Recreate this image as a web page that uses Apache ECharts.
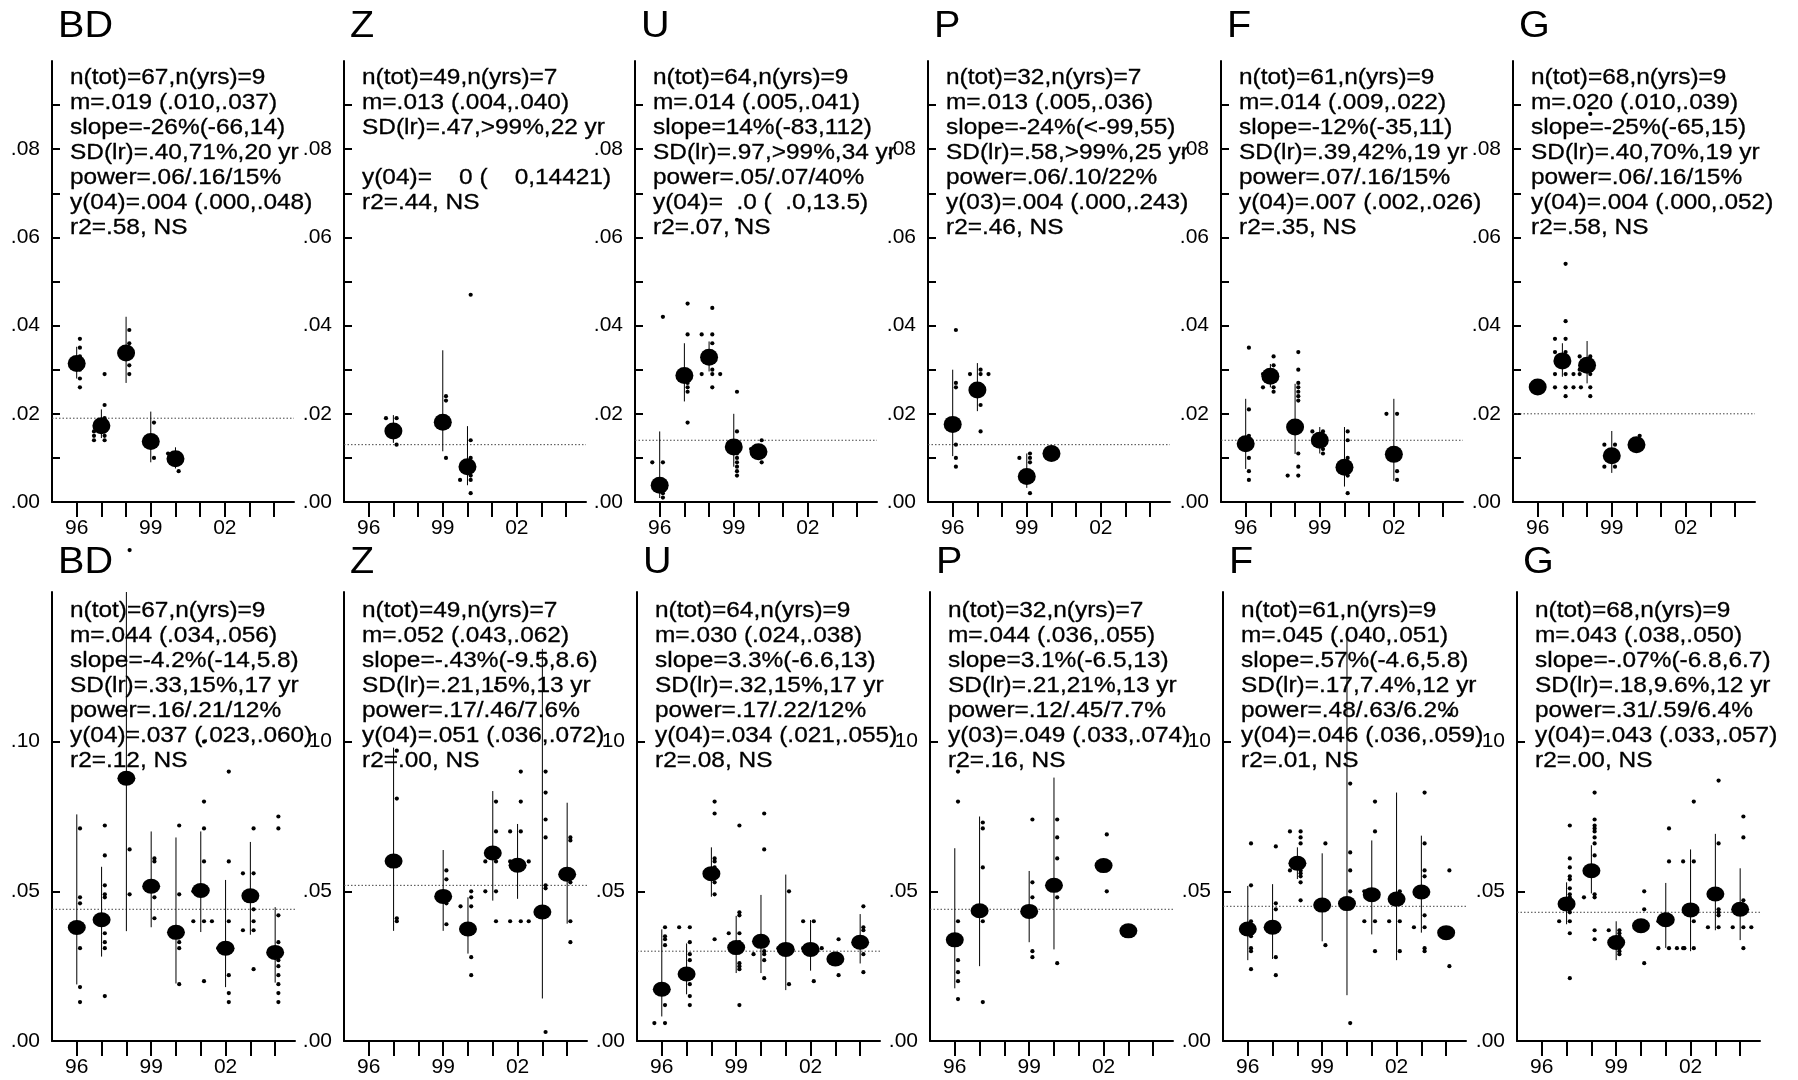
<!DOCTYPE html>
<html><head><meta charset="utf-8">
<script src="https://cdn.jsdelivr.net/npm/echarts@6.0.0/dist/echarts.min.js"></script>
<style>html,body{margin:0;padding:0;background:#fff}#c{width:1798px;height:1080px}</style>
</head><body><div id="c"></div><script>
// ---------- DATA ----------
// yearly rows: [year, mean, ciLow, ciHigh]; samples: [year, [individual values]]
const BD_top_yearly = [[1996,.0314,.028,.0352],[1997,.0173,.0145,.021],[1998,.0338,.027,.042],[1999,.0137,.009,.0205],[2000,.0098,.0076,.0124]];
const BD_top_samples = [[1996,[.037,.035,.033,.031,.030,.028,.026]],[1997,[.029,.022,.019,.018,.016,.016,.015,.015,.014,.014]],[1998,[.039,.036,.034,.031,.029]],[1999,[.018,.010]],[2000,[.011,.011,.010,.009,.007]]];
const BD_top_m = 0.019;
const BD_top_text = ['n(tot)=67,n(yrs)=9','m=.019 (.010,.037)','slope=-26%(-66,14)','SD(lr)=.40,71%,20 yr','power=.06/.16/15%','y(04)=.004 (.000,.048)','r2=.58, NS'];

const Z_top_yearly = [[1997,.0161,.0134,.0197],[1999,.0181,.0115,.0344],[2000,.0080,.0038,.0172]];
const Z_top_samples = [[1997,[.019,.019,.015,.013]],[1999,[.024,.023,.010]],[2000,[.047,.014,.010,.008,.006,.005,.005,.002]]];
const Z_top_m = 0.013;
const Z_top_text = ['n(tot)=49,n(yrs)=7','m=.013 (.004,.040)','SD(lr)=.47,>99%,22 yr','','y(04)=    0 (    0,14421)','r2=.44, NS'];

const U_top_yearly = [[1996,.0038,.0009,.016],[1997,.0287,.0228,.036],[1998,.0328,.0296,.0364],[1999,.0125,.008,.020],[2000,.0114,null,null]];
const U_top_samples = [[1996,[.042,.009,.009,.003,.002,.001]],[1997,[.045,.038,.027,.026,.025,.018]],[1998,[.044,.038,.038,.036,.030,.029,.029,.029,.026]],[1999,[.064,.025,.016,.012,.011,.010,.009,.008,.007,.006]],[2000,[.014,.012,.012,.011,.009]]];
const U_top_m = 0.014;
const U_top_text = ['n(tot)=64,n(yrs)=9','m=.014 (.005,.041)','slope=14%(-83,112)','SD(lr)=.97,>99%,34 yr','power=.05/.07/40%','y(04)=  .0 (  .0,13.5)','r2=.07, NS'];

const P_top_yearly = [[1996,.0176,.0104,.030],[1997,.0254,.0206,.0315],[1999,.0058,.0032,.011],[2000,.011,null,null]];
const P_top_samples = [[1996,[.039,.027,.026,.013,.010,.008]],[1997,[.030,.029,.029,.029,.022,.016]],[1999,[.011,.010,.010,.009,.002]],[2000,[.012,.011]]];
const P_top_m = 0.013;
const P_top_text = ['n(tot)=32,n(yrs)=7','m=.013 (.005,.036)','slope=-24%(<-99,55)','SD(lr)=.58,>99%,25 yr','power=.06/.10/22%','y(03)=.004 (.000,.243)','r2=.46, NS'];

const F_top_yearly = [[1996,.0132,.0075,.0234],[1997,.0285,.026,.0313],[1998,.017,.0109,.0268],[1999,.014,.011,.017],[2000,.0079,.0035,.017],[2002,.0108,.0048,.0234]];
const F_top_samples = [[1996,[.035,.021,.015,.010,.007,.005]],[1997,[.033,.031,.029,.029,.026,.026,.025]],[1998,[.034,.030,.027,.026,.025,.024,.023,.011,.008,.006,.006]],[1999,[.016,.016,.012,.011]],[2000,[.016,.014,.010,.006,.002]],[2002,[.020,.020,.007,.005]]];
const F_top_m = 0.014;
const F_top_text = ['n(tot)=61,n(yrs)=9','m=.014 (.009,.022)','slope=-12%(-35,11)','SD(lr)=.39,42%,19 yr','power=.07/.16/15%','y(04)=.007 (.002,.026)','r2=.35, NS'];

const G_top_yearly = [[1996,.0261,null,null],[1997,.032,.0284,.036],[1998,.031,.0269,.0365],[1999,.0105,.0066,.0161],[2000,.013,null,null]];
const G_top_samples = [[1996,[.026]],[1997,[.054,.041,.037,.037,.034,.034,.031,.029,.029,.029,.026,.026,.026,.026,.024]],[1998,[.088,.033,.033,.030,.030,.029,.029,.026,.024]],[1999,[.013,.013,.008,.008]],[2000,[.015,.012]]];
const G_top_m = 0.020;
const G_top_text = ['n(tot)=68,n(yrs)=9','m=.020 (.010,.039)','slope=-25%(-65,15)','SD(lr)=.40,70%,19 yr','power=.06/.16/15%','y(04)=.004 (.000,.052)','r2=.58, NS'];

const BD_bot_yearly = [[1996,.0379,.0189,.0757],[1997,.0405,.0282,.0582],[1998,.0878,.0367,.15],[1999,.0517,.038,.070],[2000,.0363,.0192,.068],[2001,.0503,.0364,.070],[2002,.031,.018,.0538],[2003,.0485,.0355,.0665],[2004,.0296,.0195,.0447]];
const BD_bot_samples = [[1996,[.071,.048,.046,.031,.018,.013]],[1997,[.072,.062,.052,.049,.048,.036,.033,.031,.015]],[1998,[.164,.064,.049]],[1999,[.061,.060,.048,.041]],[2000,[.072,.049,.033,.031,.019]],[2001,[.100,.080,.071,.060,.050,.050,.040,.040,.040,.020]],[2002,[.090,.060,.040,.031,.031,.022,.016,.013]],[2003,[.071,.056,.056,.044,.040,.037,.037,.024]],[2004,[.075,.071,.042,.033,.027,.025,.022,.019,.016,.013]]];
const BD_bot_m = 0.044;
const BD_bot_text = ['n(tot)=67,n(yrs)=9','m=.044 (.034,.056)','slope=-4.2%(-14,5.8)','SD(lr)=.33,15%,17 yr','power=.16/.21/12%','y(04)=.037 (.023,.060)','r2=.12, NS'];

const Z_bot_yearly = [[1997,.0601,.0368,.098],[1999,.0483,.0368,.0638],[2000,.0374,.0292,.048],[2001,.0628,.0469,.0835],[2002,.0587,.0475,.0725],[2003,.0431,.0142,.131],[2004,.0557,.0392,.0796]];
const Z_bot_samples = [[1997,[.097,.081,.041,.040]],[1999,[.057,.054,.046,.039]],[2000,[.050,.048,.045,.045,.036,.028,.022]],[2001,[.118,.080,.070,.060,.060,.050,.050,.040]],[2002,[.090,.080,.070,.070,.060,.060,.060,.040,.040,.040]],[2003,[.090,.083,.074,.068,.052,.051,.003]],[2004,[.068,.067,.053,.040,.033]]];
const Z_bot_m = 0.052;
const Z_bot_text = ['n(tot)=49,n(yrs)=7','m=.052 (.043,.062)','slope=-.43%(-9.5,8.6)','SD(lr)=.21,15%,13 yr','power=.17/.46/7.6%','y(04)=.051 (.036,.072)','r2=.00, NS'];

const U_bot_yearly = [[1996,.0173,.0082,.0373],[1997,.0224,.0156,.0326],[1998,.0559,.0482,.0647],[1999,.0312,.0227,.0418],[2000,.0333,.0227,.0488],[2001,.0306,.017,.0556],[2002,.0306,.0235,.0404],[2003,.0274,null,null],[2004,.033,.0259,.0424]];
const U_bot_samples = [[1996,[.038,.035,.034,.032,.012,.006,.006]],[1997,[.038,.038,.033,.029,.027,.019,.015,.012]],[1998,[.080,.076,.061,.060,.058,.055,.053,.049,.034]],[1999,[.072,.043,.042,.036,.036,.033,.026,.025,.024,.012]],[2000,[.076,.064,.030,.029,.029,.027,.021]],[2001,[.050,.031,.031,.019]],[2002,[.040,.040,.031,.031,.031,.020]],[2003,[.034,.022]],[2004,[.045,.038,.037,.029,.023]]];
const U_bot_m = 0.030;
const U_bot_text = ['n(tot)=64,n(yrs)=9','m=.030 (.024,.038)','slope=3.3%(-6.6,13)','SD(lr)=.32,15%,17 yr','power=.17/.22/12%','y(04)=.034 (.021,.055)','r2=.08, NS'];

const P_bot_yearly = [[1996,.0338,.0176,.0644],[1997,.0435,.025,.075],[1999,.0433,.033,.0568],[2000,.052,.0306,.088],[2002,.0586,null,null],[2003,.0368,null,null]];
const P_bot_samples = [[1996,[.090,.080,.040,.027,.023,.020,.014]],[1997,[.073,.071,.058,.040,.013]],[1999,[.074,.053,.048,.030,.028]],[2000,[.074,.068,.061,.048,.026]],[2002,[.069,.050]],[2003,[.037]]];
const P_bot_m = 0.044;
const P_bot_text = ['n(tot)=32,n(yrs)=7','m=.044 (.036,.055)','slope=3.1%(-6.5,13)','SD(lr)=.21,21%,13 yr','power=.12/.45/7.7%','y(03)=.049 (.033,.074)','r2=.16, NS'];

const F_bot_yearly = [[1996,.0374,.027,.0518],[1997,.038,.0274,.0524],[1998,.0594,.0541,.0647],[1999,.0454,.0333,.0627],[2000,.0459,.0153,.135],[2001,.0489,.0356,.067],[2002,.0474,.027,.083],[2003,.0498,.0362,.0686],[2004,.0362,null,null]];
const F_bot_samples = [[1996,[.066,.052,.040,.038,.035,.031,.030,.024]],[1997,[.065,.046,.044,.028,.022]],[1998,[.070,.070,.068,.066,.057,.057,.056,.055,.053,.047]],[1999,[.066,.032]],[2000,[.086,.063,.057,.050,.006]],[2001,[.080,.070,.050,.050,.040,.040,.030]],[2002,[.050,.040,.040,.030]],[2003,[.083,.066,.057,.055,.042,.038,.038,.031,.030]],[2004,[.109,.057,.025]]];
const F_bot_m = 0.045;
const F_bot_text = ['n(tot)=61,n(yrs)=9','m=.045 (.040,.051)','slope=.57%(-4.6,5.8)','SD(lr)=.17,7.4%,12 yr','power=.48/.63/6.2%','y(04)=.046 (.036,.059)','r2=.01, NS'];

const G_bot_yearly = [[1997,.0458,.039,.053],[1998,.0569,.0493,.0654],[1999,.0329,.027,.040],[2000,.0385,null,null],[2001,.0405,.0311,.0528],[2002,.0438,.030,.064],[2003,.0491,.037,.0692],[2004,.044,.0337,.0577]];
const G_bot_samples = [[1997,[.072,.061,.058,.055,.054,.051,.049,.048,.046,.044,.043,.040,.040,.036,.021]],[1998,[.083,.074,.072,.071,.070,.068,.066,.062,.049,.048,.048,.037,.034]],[1999,[.037,.037,.036,.035,.031,.030,.029]],[2000,[.050,.044,.026]],[2001,[.071,.060,.040,.040,.031,.031,.031,.031]],[2002,[.080,.060,.060,.040,.031,.031]],[2003,[.087,.066,.044,.043,.042,.038,.038]],[2004,[.075,.068,.047,.038,.038,.038,.031]]];
const G_bot_m = 0.043;
const G_bot_text = ['n(tot)=68,n(yrs)=9','m=.043 (.038,.050)','slope=-.07%(-6.8,6.7)','SD(lr)=.18,9.6%,12 yr','power=.31/.59/6.4%','y(04)=.043 (.033,.057)','r2=.00, NS'];

const yearTicks = [1996,1997,1998,1999,2000,2001,2002,2003,2004];
const yearLabels = [1996,1999,2002];
const topYTicks = [0,.01,.02,.03,.04,.05,.06,.07,.08,.09];
const topYLabels = [0,.02,.04,.06,.08];
const botYTicks = [0,.05,.10];
const botYLabels = [0,.05,.10];

// ---------- LAYOUT ----------
const FONT = '"Liberation Sans", Arial, Helvetica, sans-serif';
const X_MIN = 1995, X_MAX = 2004.8;
const ROWS = [
  {top:61, height:441, max:0.10, ticks:topYTicks, labels:topYLabels, lefts:[52,344,635,928,1221,1513], width:242, dot:[18,17], titleY:27, textY:65.5},
  {top:592, height:449, max:0.15, ticks:botYTicks, labels:botYLabels, lefts:[52,344,637,930,1223,1517], width:243, dot:[18,15], titleY:563, textY:598.5}
];
const panels = [
  ['BD',0,BD_top_yearly,BD_top_samples,BD_top_m,BD_top_text],
  ['Z',0,Z_top_yearly,Z_top_samples,Z_top_m,Z_top_text],
  ['U',0,U_top_yearly,U_top_samples,U_top_m,U_top_text],
  ['P',0,P_top_yearly,P_top_samples,P_top_m,P_top_text],
  ['F',0,F_top_yearly,F_top_samples,F_top_m,F_top_text],
  ['G',0,G_top_yearly,G_top_samples,G_top_m,G_top_text],
  ['BD',1,BD_bot_yearly,BD_bot_samples,BD_bot_m,BD_bot_text],
  ['Z',1,Z_bot_yearly,Z_bot_samples,Z_bot_m,Z_bot_text],
  ['U',1,U_bot_yearly,U_bot_samples,U_bot_m,U_bot_text],
  ['P',1,P_bot_yearly,P_bot_samples,P_bot_m,P_bot_text],
  ['F',1,F_bot_yearly,F_bot_samples,F_bot_m,F_bot_text],
  ['G',1,G_bot_yearly,G_bot_samples,G_bot_m,G_bot_text]
];
const OFFSETS = [0.13,-0.3,0.45,0.75,-0.6];
function layoutSamples(samples){
  const out = [];
  samples.forEach(([yr, vals]) => {
    const seen = {};
    vals.forEach(v => { const k = v.toFixed(4); const n = seen[k] || 0; seen[k] = n + 1; out.push([yr + OFFSETS[n % OFFSETS.length], v]); });
  });
  return out;
}

const grid = [], xAxis = [], yAxis = [], series = [], graphic = [];
panels.forEach(([title,row,yearly,samples,m,text], i) => {
  const R = ROWS[row];
  const left = R.lefts[i % 6];
  grid.push({left:left, top:R.top, width:R.width, height:R.height, outerBoundsMode:'none', containLabel:false});
  xAxis.push({gridIndex:i, type:'value', min:X_MIN, max:X_MAX,
    axisLine:{show:true, onZero:false, lineStyle:{color:'#000', width:2}},
    axisTick:{show:true, customValues:yearTicks, length:15, lineStyle:{color:'#000', width:2}},
    axisLabel:{show:true, customValues:yearLabels, formatter:v => String(Math.round(v)).slice(2), fontSize:21, color:'#000', fontFamily:FONT, margin:16},
    splitLine:{show:false}});
  yAxis.push({gridIndex:i, type:'value', min:0, max:R.max,
    axisLine:{show:true, onZero:false, lineStyle:{color:'#000', width:2}},
    axisTick:{show:true, inside:true, customValues:R.ticks, length:8, lineStyle:{color:'#000', width:2}},
    axisLabel:{show:true, customValues:R.labels, formatter:v => v.toFixed(2).replace(/^0/, ''), fontSize:21, color:'#000', fontFamily:FONT, margin:12},
    splitLine:{show:false}});
  // overall mean: dotted reference line across the panel
  series.push({type:'line', xAxisIndex:i, yAxisIndex:i, z:1, silent:true, symbol:'none',
    lineStyle:{type:[1.5,2], color:'#444', width:1, opacity:1}, data:[[X_MIN, m],[X_MAX, m]]});
  // yearly confidence interval
  series.push({type:'custom', xAxisIndex:i, yAxisIndex:i, z:2, silent:true,
    data: yearly.filter(d => d[2] != null).map(d => [d[0], d[2], d[3]]),
    encode:{x:0, y:[1,2]},
    renderItem:(params, api) => {
      const a = api.coord([api.value(0), api.value(1)]);
      const b = api.coord([api.value(0), api.value(2)]);
      return {type:'line', shape:{x1:a[0], y1:a[1], x2:b[0], y2:b[1]}, style:{stroke:'#000', lineWidth:1}};
    }});
  // individual samples
  series.push({type:'scatter', xAxisIndex:i, yAxisIndex:i, z:3, clip:false, silent:true,
    symbol:'circle', symbolSize:4.2, itemStyle:{color:'#000', opacity:1}, data:layoutSamples(samples)});
  // yearly means
  series.push({type:'scatter', xAxisIndex:i, yAxisIndex:i, z:4, clip:false, silent:true,
    symbol:'circle', symbolSize:R.dot, itemStyle:{color:'#000', opacity:1},
    data: yearly.map(d => [d[0], d[1]])});
  graphic.push({type:'text', x:left + 6, y:R.titleY, scaleX:1.1, z:100,
    style:{text:title, fontSize:36, fontFamily:FONT, fill:'#000', align:'left', verticalAlign:'middle'}});
  graphic.push({type:'text', x:left + 18, y:R.textY, scaleX:1.11, z:100,
    style:{text:text.join('\n'), fontSize:22, lineHeight:25, fontFamily:FONT, fill:'#000', stroke:'#000', lineWidth:0.3, align:'left', verticalAlign:'top'}});
});

const chart = echarts.init(document.getElementById('c'), null, {renderer:'canvas'});
chart.setOption({backgroundColor:'#fff', animation:false, grid, xAxis, yAxis, series, graphic});
</script></body></html>
